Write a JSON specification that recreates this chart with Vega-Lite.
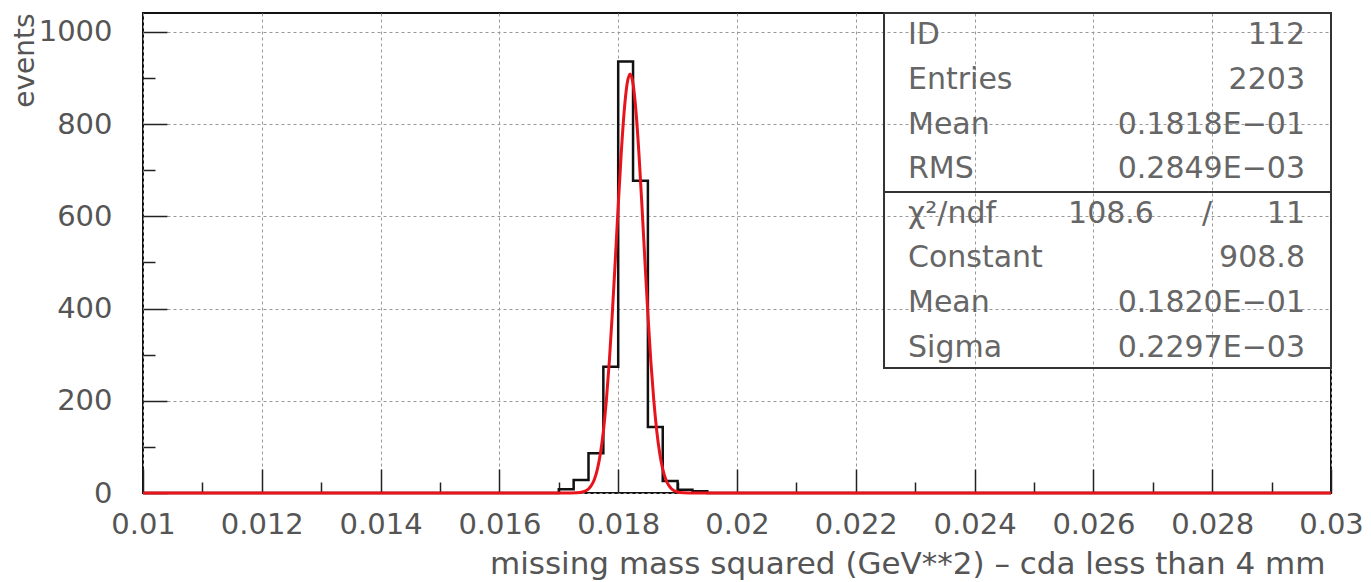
{
  "$schema": "https://vega.github.io/schema/vega-lite/v6.json",
  "width": 1188,
  "height": 480,
  "autosize": {"type": "none"},
  "padding": {"left": 143, "top": 13, "right": 40, "bottom": 89},
  "background": "white",
  "config": {
    "view": {"stroke": "#111", "strokeWidth": 2},
    "axis": {"labelFont": "DejaVu Sans", "titleFont": "DejaVu Sans", "labelColor": "#555", "titleColor": "#555", "titleFontWeight": "normal"}
  },
  "datasets": {
    "hist": [
      {"x": 0.01, "count": 0},
      {"x": 0.017, "count": 8},
      {"x": 0.01725, "count": 28},
      {"x": 0.0175, "count": 86},
      {"x": 0.01775, "count": 274},
      {"x": 0.018, "count": 936},
      {"x": 0.01825, "count": 677},
      {"x": 0.0185, "count": 143},
      {"x": 0.01875, "count": 26},
      {"x": 0.019, "count": 7},
      {"x": 0.01925, "count": 4},
      {"x": 0.0195, "count": 0},
      {"x": 0.03, "count": 0}
    ],
    "gauss": [
      {"x": 0.01, "count": 0},
      {"x": 0.0171, "count": 0.01},
      {"x": 0.0172, "count": 0.07},
      {"x": 0.0173, "count": 0.42},
      {"x": 0.0174, "count": 2.11},
      {"x": 0.0175, "count": 8.75},
      {"x": 0.01755, "count": 16.6},
      {"x": 0.0176, "count": 29.97},
      {"x": 0.01765, "count": 51.7},
      {"x": 0.0177, "count": 85.0},
      {"x": 0.01775, "count": 133.3},
      {"x": 0.0178, "count": 199.6},
      {"x": 0.01785, "count": 284.6},
      {"x": 0.0179, "count": 387.4},
      {"x": 0.01795, "count": 502.7},
      {"x": 0.018, "count": 622.2},
      {"x": 0.01805, "count": 734.3},
      {"x": 0.0181, "count": 826.7},
      {"x": 0.01815, "count": 887.5},
      {"x": 0.0182, "count": 908.8},
      {"x": 0.01825, "count": 887.5},
      {"x": 0.0183, "count": 826.7},
      {"x": 0.01835, "count": 734.3},
      {"x": 0.0184, "count": 622.2},
      {"x": 0.01845, "count": 502.7},
      {"x": 0.0185, "count": 387.4},
      {"x": 0.01855, "count": 284.6},
      {"x": 0.0186, "count": 199.6},
      {"x": 0.01865, "count": 133.3},
      {"x": 0.0187, "count": 85.0},
      {"x": 0.01875, "count": 51.7},
      {"x": 0.0188, "count": 29.97},
      {"x": 0.01885, "count": 16.6},
      {"x": 0.0189, "count": 8.75},
      {"x": 0.019, "count": 2.11},
      {"x": 0.0191, "count": 0.42},
      {"x": 0.0192, "count": 0.07},
      {"x": 0.0193, "count": 0.01},
      {"x": 0.03, "count": 0}
    ],
    "stats": [
      {"row": 0, "label": "ID", "value": "112"},
      {"row": 1, "label": "Entries", "value": "2203"},
      {"row": 2, "label": "Mean", "value": "0.1818E−01"},
      {"row": 3, "label": "RMS", "value": "0.2849E−03"},
      {"row": 4, "label": "χ²/ndf", "mid": "108.6", "sep": "/", "value": "11"},
      {"row": 5, "label": "Constant", "value": "908.8"},
      {"row": 6, "label": "Mean", "value": "0.1820E−01"},
      {"row": 7, "label": "Sigma", "value": "0.2297E−03"}
    ]
  },
  "layer": [
    {
      "layer": [
        {
          "data": {"name": "hist"},
          "mark": {"type": "line", "interpolate": "step-after", "color": "#111", "strokeWidth": 2.5},
          "encoding": {
            "x": {
              "field": "x", "type": "quantitative",
              "scale": {"domain": [0.01, 0.03], "nice": false, "zero": false},
              "axis": {
                "values": [0.01,0.0105,0.011,0.0115,0.012,0.0125,0.013,0.0135,0.014,0.0145,0.015,0.0155,0.016,0.0165,0.017,0.0175,0.018,0.0185,0.019,0.0195,0.02,0.0205,0.021,0.0215,0.022,0.0225,0.023,0.0235,0.024,0.0245,0.025,0.0255,0.026,0.0265,0.027,0.0275,0.028,0.0285,0.029,0.0295,0.03],
                "labelExpr": "abs(datum.value*500 - round(datum.value*500)) < 0.01 ? format(datum.value, '~g') : ''",
                "tickSize": {"condition": {"test": "abs(datum.value*500 - round(datum.value*500)) < 0.01", "value": -24}, "value": -11},
                "gridOpacity": {"condition": {"test": "abs(datum.value*500 - round(datum.value*500)) < 0.01", "value": 1}, "value": 0},
                "grid": true, "gridDash": [3, 3], "gridColor": "#999", "gridWidth": 1,
                "domain": false, "tickColor": "#222", "tickWidth": 1.5,
                "labelPadding": 41, "labelFontSize": 29, "labelOverlap": false, "labelFlush": false, "labelBound": false,
                "labelBaseline": "top",
                "title": "missing mass squared (GeV**2) – cda less than  4 mm",
                "titleFontSize": 31, "titleAnchor": "end", "titleAlign": "right", "titleX": 1182, "titleY": 80, "titleBaseline": "alphabetic"
              }
            },
            "y": {
              "field": "count", "type": "quantitative",
              "scale": {"domain": [0, 1041], "nice": false, "zero": true},
              "axis": {
                "values": [0,50,100,150,200,250,300,350,400,450,500,550,600,650,700,750,800,850,900,950,1000],
                "labelExpr": "datum.value % 200 == 0 ? format(datum.value, 'd') : ''",
                "tickSize": {"condition": {"test": "datum.value % 200 == 0", "value": -24}, "value": -12},
                "gridOpacity": {"condition": {"test": "datum.value % 200 == 0", "value": 1}, "value": 0},
                "grid": true, "gridDash": [3, 3], "gridColor": "#999", "gridWidth": 1,
                "domain": false, "tickColor": "#222", "tickWidth": 1.5,
                "labelPadding": 55, "labelFontSize": 29, "labelOverlap": false, "labelFlush": false, "labelBound": false,
                "labelBaseline": "middle",
                "title": "events",
                "titleFontSize": 28, "titleAngle": 270, "titleAnchor": "end", "titleAlign": "right", "titleX": -110, "titleY": 0, "titleBaseline": "alphabetic"
              }
            }
          }
        },
        {
          "data": {"name": "gauss"},
          "mark": {"type": "line", "interpolate": "monotone", "color": "#e8141b", "strokeWidth": 3},
          "encoding": {
            "x": {"field": "x", "type": "quantitative"},
            "y": {"field": "count", "type": "quantitative"}
          }
        }
      ]
    },
    {
      "layer": [
        {
          "data": {"values": [{}]},
          "mark": {"type": "rect", "fill": null, "fillOpacity": 0, "stroke": "#333", "strokeWidth": 2},
          "encoding": {
            "x": {"datum": 0.022475, "type": "quantitative", "axis": null},
            "x2": {"datum": 0.03},
            "y": {"datum": -0.5, "type": "quantitative", "axis": null, "scale": {"domain": [-0.5, 10.262], "reverse": true, "nice": false, "zero": false}},
            "y2": {"datum": 7.46}
          }
        },
        {
          "data": {"values": [{}]},
          "mark": {"type": "rule", "stroke": "#333", "strokeWidth": 2},
          "encoding": {
            "x": {"datum": 0.022475, "type": "quantitative", "axis": null},
            "x2": {"datum": 0.03},
            "y": {"datum": 3.513, "type": "quantitative", "axis": null}
          }
        },
        {
          "data": {"name": "stats"},
          "mark": {"type": "text", "align": "left", "baseline": "middle", "font": "DejaVu Sans", "fontSize": 30, "color": "#666"},
          "encoding": {
            "x": {"datum": 0.022879, "type": "quantitative", "axis": null},
            "y": {"field": "row", "type": "quantitative", "axis": null},
            "text": {"field": "label"}
          }
        },
        {
          "data": {"name": "stats"},
          "mark": {"type": "text", "align": "right", "baseline": "middle", "font": "DejaVu Sans", "fontSize": 30, "color": "#666"},
          "encoding": {
            "x": {"datum": 0.029562, "type": "quantitative", "axis": null},
            "y": {"field": "row", "type": "quantitative", "axis": null},
            "text": {"field": "value"}
          }
        },
        {
          "data": {"name": "stats"},
          "transform": [{"filter": "datum.mid"}],
          "mark": {"type": "text", "align": "center", "baseline": "middle", "font": "DejaVu Sans", "fontSize": 30, "color": "#666"},
          "encoding": {
            "x": {"datum": 0.026296, "type": "quantitative", "axis": null},
            "y": {"field": "row", "type": "quantitative", "axis": null},
            "text": {"field": "mid"}
          }
        },
        {
          "data": {"name": "stats"},
          "transform": [{"filter": "datum.sep"}],
          "mark": {"type": "text", "align": "center", "baseline": "middle", "font": "DejaVu Sans", "fontSize": 30, "color": "#666"},
          "encoding": {
            "x": {"datum": 0.027912, "type": "quantitative", "axis": null},
            "y": {"field": "row", "type": "quantitative", "axis": null},
            "text": {"field": "sep"}
          }
        }
      ]
    }
  ],
  "resolve": {"scale": {"y": "independent"}, "axis": {"x": "independent", "y": "independent"}}
}
